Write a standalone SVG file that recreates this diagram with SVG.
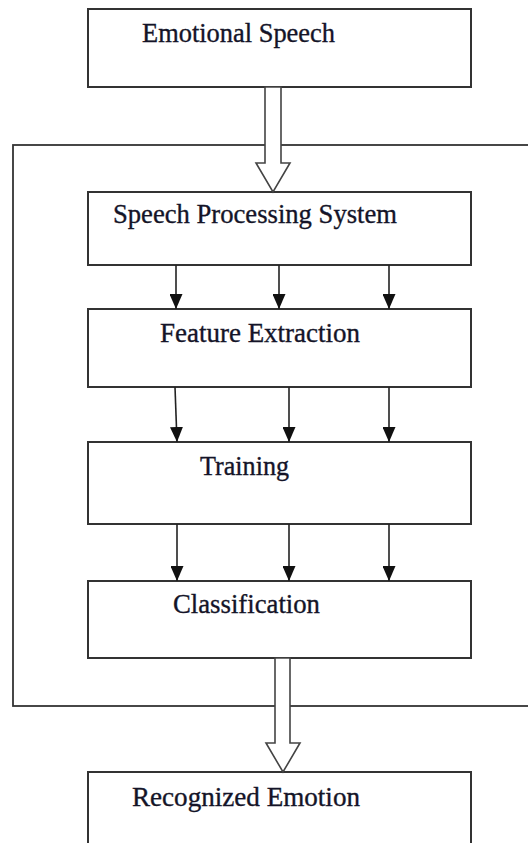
<svg xmlns="http://www.w3.org/2000/svg" width="528" height="843" viewBox="0 0 528 843">
  <style>
    .box { fill: #ffffff; stroke: #333333; stroke-width: 2; }
    .frame { fill: none; stroke: #333333; stroke-width: 1.8; }
    .lbl { font-family: "Liberation Serif", "Times New Roman", serif; font-size: 27px; fill: #141428; stroke: #141428; stroke-width: 0.35; }
    .conn { stroke: #222222; stroke-width: 1.6; fill: none; }
    .hollow { fill: #ffffff; stroke: #444444; stroke-width: 1.6; stroke-linejoin: miter; }
  </style>
  <defs>
    <marker id="ah" markerUnits="userSpaceOnUse" markerWidth="15" markerHeight="13" viewBox="0 0 15 13" refX="15" refY="6.5" orient="auto">
      <path d="M0,0 L15,6.5 L0,13 z" fill="#111111"/>
    </marker>
  </defs>
  <rect width="528" height="843" fill="#ffffff"/>

  <g id="frame">
    <rect class="frame" x="13" y="145" width="540" height="561"/>
  </g>

  <g id="emotional-speech">
    <rect class="box" x="88" y="9" width="383" height="78"/>
    <text class="lbl" x="142" y="42" textLength="193" lengthAdjust="spacingAndGlyphs">Emotional Speech</text>
  </g>

  <g id="speech-processing-system">
    <rect class="box" x="88" y="192" width="383" height="73"/>
    <text class="lbl" x="113" y="223" textLength="284" lengthAdjust="spacingAndGlyphs">Speech Processing  System</text>
  </g>

  <g id="feature-extraction">
    <rect class="box" x="88" y="309" width="383" height="78"/>
    <text class="lbl" x="160" y="342" textLength="200" lengthAdjust="spacingAndGlyphs">Feature Extraction</text>
  </g>

  <g id="training">
    <rect class="box" x="88" y="442" width="383" height="82"/>
    <text class="lbl" x="200" y="475" textLength="89" lengthAdjust="spacingAndGlyphs">Training</text>
  </g>

  <g id="classification">
    <rect class="box" x="88" y="581" width="383" height="77"/>
    <text class="lbl" x="173" y="613" textLength="147" lengthAdjust="spacingAndGlyphs">Classification</text>
  </g>

  <g id="recognized-emotion">
    <rect class="box" x="88" y="772" width="383" height="90"/>
    <text class="lbl" x="132" y="806" textLength="228" lengthAdjust="spacingAndGlyphs">Recognized Emotion</text>
  </g>

  <g id="connectors">
    <polygon class="hollow" points="265,87 281,87 281,163 290,163 273,192 256,163 265,163"/>
    <polygon class="hollow" points="275,658 290,658 290,743 300,743 283,772 266,743 275,743"/>

    <line class="conn" x1="176" y1="265" x2="176" y2="309" marker-end="url(#ah)"/>
    <line class="conn" x1="279" y1="265" x2="279" y2="309" marker-end="url(#ah)"/>
    <line class="conn" x1="389" y1="265" x2="389" y2="309" marker-end="url(#ah)"/>

    <line class="conn" x1="175" y1="387" x2="177" y2="442" marker-end="url(#ah)"/>
    <line class="conn" x1="289" y1="387" x2="289" y2="442" marker-end="url(#ah)"/>
    <line class="conn" x1="389" y1="387" x2="389" y2="442" marker-end="url(#ah)"/>

    <line class="conn" x1="177" y1="524" x2="177" y2="581" marker-end="url(#ah)"/>
    <line class="conn" x1="289" y1="524" x2="289" y2="581" marker-end="url(#ah)"/>
    <line class="conn" x1="389" y1="524" x2="389" y2="581" marker-end="url(#ah)"/>
  </g>
</svg>
